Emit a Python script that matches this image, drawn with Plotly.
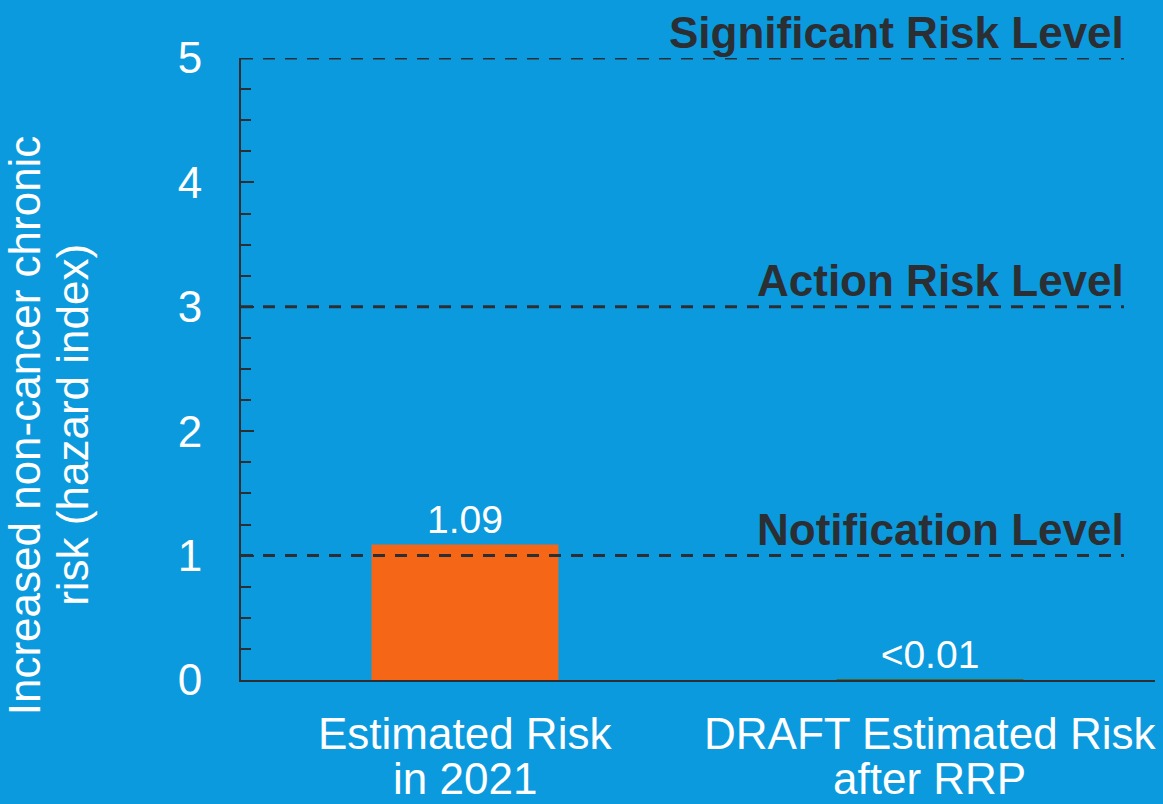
import plotly.graph_objects as go

# ---- data ----
categories = ["Estimated Risk<br>in 2021", "DRAFT Estimated Risk<br>after RRP"]
cat_line1 = ["Estimated Risk", "DRAFT Estimated Risk"]
cat_line2 = ["in 2021", "after RRP"]
values = [1.09, 0.008]
value_labels = ["1.09", "<0.01"]
bar_colors = ["#F56716", "#3E6B3A"]

level_values = [5, 3, 1]
level_names = ["Significant Risk Level", "Action Risk Level", "Notification Level"]

y_title_lines = ["Increased non-cancer chronic", "risk (hazard index)"]

BG = "#0B9ADE"
DARK = "#2B2F33"
FONT = "Liberation Sans, Arial, sans-serif"

x_pos = list(range(len(categories)))

fig = go.Figure()
fig.add_trace(go.Bar(
    x=x_pos, y=values, width=0.402,
    marker=dict(color=bar_colors, line=dict(width=0)),
    text=value_labels, textposition="outside", cliponaxis=False,
    constraintext="none",
    textfont=dict(color="white", size=39, family=FONT),
    hoverinfo="skip",
))

shapes = []
annotations = []
for v, name in zip(level_values, level_names):
    shapes.append(dict(type="line", xref="paper", yref="y", x0=0, x1=0.966, y0=v, y1=v,
                       line=dict(color=DARK, width=3, dash="12px,10px"), layer="above"))
    annotations.append(dict(xref="paper", yref="y", x=0.968, y=v, text="<b>%s</b>" % name,
                            xanchor="right", yanchor="middle", yshift=26, showarrow=False,
                            font=dict(color=DARK, size=44, family=FONT)))

# category labels, one annotation per line to match tight spacing
for xi, l1, l2 in zip(x_pos, cat_line1, cat_line2):
    annotations.append(dict(xref="x", yref="paper", x=xi, y=0, text=l1, yshift=-53,
                            xanchor="center", yanchor="middle", showarrow=False,
                            font=dict(color="white", size=44, family=FONT)))
    annotations.append(dict(xref="x", yref="paper", x=xi, y=0, text=l2, yshift=-98,
                            xanchor="center", yanchor="middle", showarrow=False,
                            font=dict(color="white", size=44, family=FONT)))

# y title lines
for xp, line in zip([-0.236, -0.184], y_title_lines):
    annotations.append(dict(xref="paper", yref="paper", x=xp, y=0.41, text=line,
                            textangle=-90, xanchor="center", yanchor="middle", showarrow=False,
                            font=dict(color="white", size=44, family=FONT)))

fig.update_layout(
    width=1163, height=804,
    paper_bgcolor=BG, plot_bgcolor=BG,
    margin=dict(l=241, r=8, t=58, b=124),
    showlegend=False,
    shapes=shapes, annotations=annotations,
    xaxis=dict(range=[-0.4817, 1.4839], showticklabels=False, ticks="",
               showgrid=False, zeroline=False, showline=True, linecolor=DARK, linewidth=2,
               fixedrange=True),
    yaxis=dict(range=[0, 5], tickvals=[0, 1, 2, 3, 4, 5], ticks="inside", ticklen=13,
               tickwidth=2, tickcolor=DARK, showgrid=False, zeroline=False,
               showline=True, linecolor=DARK, linewidth=2,
               tickfont=dict(color="white", size=44, family=FONT),
               ticklabelstandoff=28,
               minor=dict(dtick=0.25, ticks="inside", ticklen=10, tickwidth=2, tickcolor=DARK,
                          showgrid=False),
               fixedrange=True),
)

fig.write_html("out.html", config={"displayModeBar": False},
               post_script="document.body.style.margin='0';")
